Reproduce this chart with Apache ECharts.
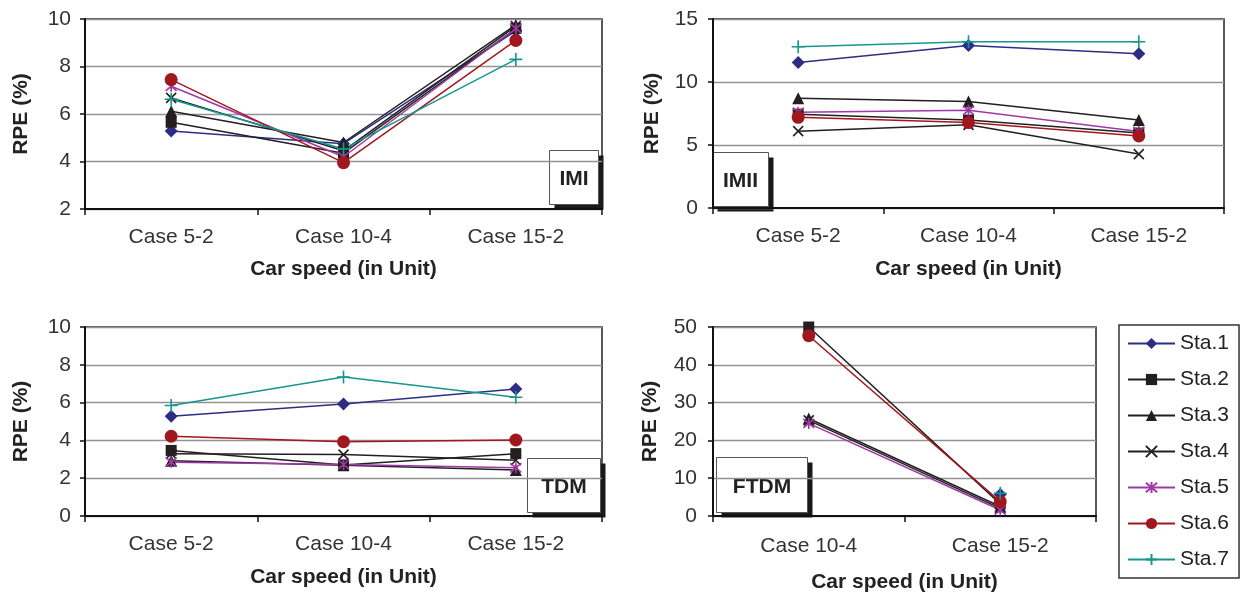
<!DOCTYPE html>
<html>
<head>
<meta charset="utf-8">
<script src="https://cdn.jsdelivr.net/npm/echarts@6/dist/echarts.min.js"></script>
<style>
  html, body { margin: 0; padding: 0; background: #ffffff; }
  #chart { width: 1247px; height: 594px; }
</style>
</head>
<body>
<div id="chart"></div>
<script>
// ---- data -------------------------------------------------------------
const stations = ['Sta.1', 'Sta.2', 'Sta.3', 'Sta.4', 'Sta.5', 'Sta.6', 'Sta.7'];
const casesThree = ['Case 5-2', 'Case 10-4', 'Case 15-2'];
const casesTwo = ['Case 10-4', 'Case 15-2'];
const panelTags = ['IMI', 'IMII', 'TDM', 'FTDM'];

// RPE (%) per station, one value per case
const imiValues = [
  [5.28, 4.75, 9.50],
  [5.65, 4.35, 9.60],
  [6.12, 4.80, 9.75],
  [6.68, 4.45, 9.70],
  [7.17, 4.20, 9.60],
  [7.45, 3.95, 9.10],
  [6.62, 4.53, 8.30]
];
const imiiValues = [
  [11.55, 12.90, 12.25],
  [7.45, 6.98, 5.95],
  [8.72, 8.45, 6.98],
  [6.10, 6.60, 4.28],
  [7.60, 7.75, 6.07],
  [7.20, 6.78, 5.72],
  [12.80, 13.20, 13.20]
];
const tdmValues = [
  [5.28, 5.92, 6.72],
  [3.47, 2.70, 3.30],
  [2.92, 2.68, 2.43],
  [3.30, 3.25, 2.95],
  [2.85, 2.72, 2.55],
  [4.22, 3.93, 4.02],
  [5.85, 7.35, 6.28]
];
const ftdmValues = [
  [null, 5.7],
  [50.0, 3.2],
  [25.8, 2.5],
  [25.3, 2.0],
  [24.5, 1.6],
  [47.7, 3.8],
  [null, 6.0]
];

// y-axis ranges per panel
const yRanges = [
  { min: 2, max: 10, interval: 2 },
  { min: 0, max: 15, interval: 5 },
  { min: 0, max: 10, interval: 2 },
  { min: 0, max: 50, interval: 10 }
];

// ---- styling ----------------------------------------------------------
const FONT = '"Liberation Sans", Arial, Helvetica, sans-serif';
const colors = ['#2e2d86', '#231f20', '#231f20', '#231f20', '#a038a8', '#a0181d', '#16968f'];
const marks = [
  { symbol: 'diamond', size: 13, stroke: false },
  { symbol: 'rect', size: 11, stroke: false },
  { symbol: 'triangle', size: 12, stroke: false },
  { symbol: 'path://M0,0L10,10M10,0L0,10', size: 10, stroke: true },
  { symbol: 'path://M0,0L10,10M10,0L0,10M5,-1L5,11', size: 11, stroke: true },
  { symbol: 'circle', size: 13, stroke: false },
  { symbol: 'path://M5,0L5,12M-1,6L11,6', size: 13, stroke: true }
];

const panels = [
  { cats: casesThree, values: imiValues, grid: { left: 85, top: 19, width: 517, height: 190 },
    xLabelMargin: 18, xNameGap: 50, yLabelMargin: 14, yNameGap: 53 },
  { cats: casesThree, values: imiiValues, grid: { left: 713, top: 19, width: 511, height: 189 },
    xLabelMargin: 18, xNameGap: 51, yLabelMargin: 15, yNameGap: 50 },
  { cats: casesThree, values: tdmValues, grid: { left: 85, top: 327, width: 517, height: 189 },
    xLabelMargin: 18, xNameGap: 51, yLabelMargin: 14, yNameGap: 53 },
  { cats: casesTwo, values: ftdmValues, grid: { left: 713, top: 327, width: 383, height: 189 },
    xLabelMargin: 20, xNameGap: 56, yLabelMargin: 16, yNameGap: 52 }
];

// tag box corners (white box with a dark drop shadow)
const tagBoxes = [
  { x: 549, y: 150, w: 49, h: 54 },
  { x: 712, y: 152, w: 56, h: 54 },
  { x: 527, y: 458, w: 73, h: 54 },
  { x: 716, y: 457, w: 91, h: 55 }
];

const grids = panels.map(p => Object.assign({
  show: true, borderColor: '#222', borderWidth: 1.5, backgroundColor: 'transparent'
}, p.grid));

const xAxes = panels.map((p, i) => ({
  type: 'category', gridIndex: i, data: p.cats, boundaryGap: true,
  name: 'Car speed (in Unit)', nameLocation: 'middle', nameGap: p.xNameGap,
  nameTextStyle: { fontFamily: FONT, fontSize: 21, fontWeight: 'bold', color: '#222' },
  axisLine: { show: true, lineStyle: { color: '#111', width: 2 } },
  axisTick: { show: true, length: 6, alignWithLabel: false, lineStyle: { color: '#111', width: 1.5 } },
  axisLabel: { interval: 0, margin: p.xLabelMargin, fontFamily: FONT, fontSize: 21, color: '#333' },
  splitLine: { show: false }
}));

const yAxes = panels.map((p, i) => Object.assign({
  type: 'value', gridIndex: i,
  name: 'RPE (%)', nameLocation: 'middle', nameGap: p.yNameGap,
  nameTextStyle: { fontFamily: FONT, fontSize: 21, fontWeight: 'bold', color: '#222' },
  axisLine: { show: true, lineStyle: { color: '#111', width: 2 } },
  axisTick: { show: true, length: 5, lineStyle: { color: '#111', width: 1.5 } },
  axisLabel: { margin: p.yLabelMargin, fontFamily: FONT, fontSize: 21, color: '#333' },
  splitLine: { show: true, lineStyle: { color: '#929292', width: 1.4 } }
}, yRanges[i]));

const series = [];
panels.forEach((p, gi) => {
  stations.forEach((name, si) => {
    const m = marks[si];
    series.push({
      type: 'line', name: name, xAxisIndex: gi, yAxisIndex: gi,
      data: p.values[si],
      symbol: m.symbol, symbolSize: m.size, showSymbol: true, showAllSymbol: true,
      connectNulls: false,
      lineStyle: { color: colors[si], width: 1.5 },
      itemStyle: { color: colors[si], borderColor: colors[si], borderWidth: m.stroke ? 1.6 : 0 },
      emphasis: { disabled: true },
      animation: false
    });
  });
});

const graphics = [];
tagBoxes.forEach((b, i) => {
  graphics.push({
    type: 'group', left: b.x, top: b.y, z: 100,
    children: [
      { type: 'rect', shape: { x: 5, y: 5, width: b.w, height: b.h }, style: { fill: '#1a1a1a' } },
      { type: 'rect', shape: { x: 0, y: 0, width: b.w, height: b.h }, style: { fill: '#ffffff', stroke: '#555', lineWidth: 1 } },
      { type: 'text', x: b.w / 2, y: b.h / 2 + 2,
        style: { text: panelTags[i], fontFamily: FONT, fontSize: 21, fontWeight: 'bold', fill: '#222',
                 align: 'center', verticalAlign: 'middle' } }
    ]
  });
});

const chart = echarts.init(document.getElementById('chart'), null, { renderer: 'canvas' });
chart.setOption({
  animation: false,
  backgroundColor: '#ffffff',
  textStyle: { fontFamily: FONT },
  grid: grids,
  xAxis: xAxes,
  yAxis: yAxes,
  legend: {
    data: stations, orient: 'vertical', left: 1119, top: 325,
    padding: [8, 10, 8, 8], itemWidth: 47, itemHeight: 14, itemGap: 15,
    backgroundColor: '#ffffff', borderColor: '#333', borderWidth: 1.5,
    selectedMode: false,
    textStyle: { fontFamily: FONT, fontSize: 21, color: '#222', lineHeight: 21 }
  },
  series: series,
  graphic: graphics
});
</script>
</body>
</html>
